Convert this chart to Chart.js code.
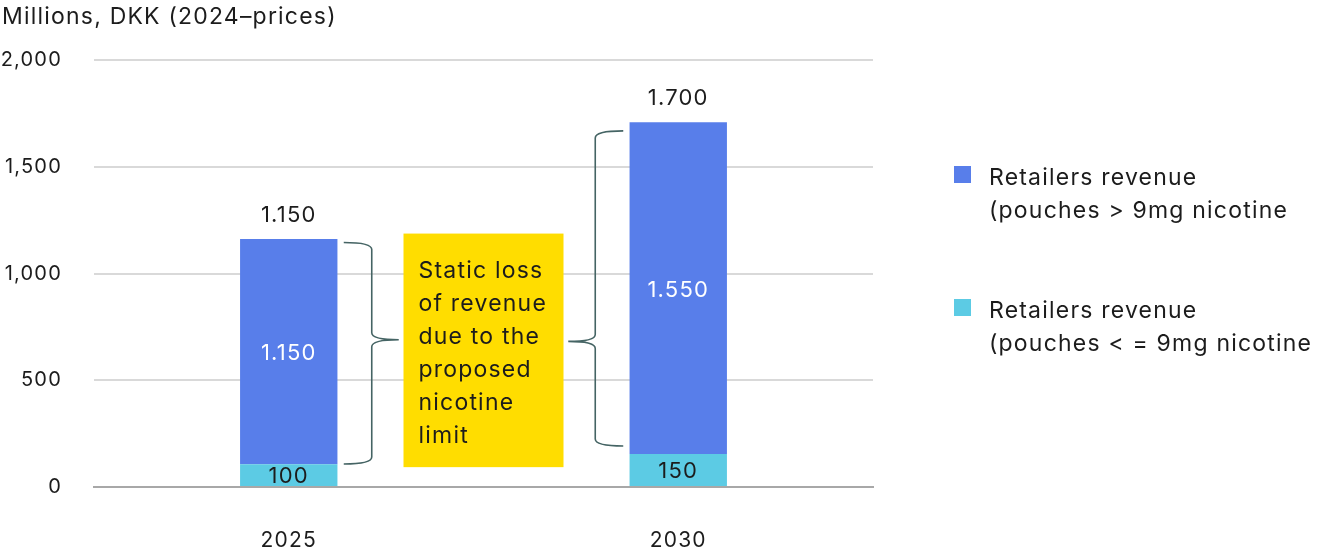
<!DOCTYPE html>
<html>
<head>
<meta charset="utf-8">
<script src="https://cdn.jsdelivr.net/npm/chart.js@4.4.1/dist/chart.umd.min.js"></script>
<style>
  html, body { margin: 0; padding: 0; background: #fff; }
  #wrap { width: 1318px; height: 552px; }
</style>
</head>
<body>
<div id="wrap"><canvas id="grafico" width="1318" height="552"></canvas></div>
<script>
const categories = ['2025', '2030'];
const over9mg = [1055, 1555];
const upTo9mg = [107, 154];
const totalLabels = ['1.150', '1.700'];
const over9mgLabels = ['1.150', '1.550'];
const upTo9mgLabels = ['100', '150'];
const yTicks = [0, 500, 1000, 1500, 2000];
const seriesNames = [
  ['Retailers revenue', '(pouches > 9mg nicotine'],
  ['Retailers revenue', '(pouches < = 9mg nicotine']
];
const boxLines = ['Static loss', 'of revenue', 'due to the', 'proposed', 'nicotine', 'limit'];

const FONT = 'Inter, "Noto Sans", sans-serif';
const TEXT = '#1c1c1c';
const BLUE = '#587EEA';
const CYAN = '#5CCBE4';

// llaves y caja amarilla (en valores del eje y)
const braces = [
  { cat: 0, side: 1, top: 1145, bottom: 108, tip: 690 },
  { cat: 1, side: -1, top: 1668, bottom: 192, tip: 682 }
];
const box = { top: 1187, bottom: 93, halfWidth: 80 };

function drawBrace(ctx, cx, side, yTop, yBot, yTip) {
  const edge = cx + side * 55;
  const spine = cx + side * 83;
  const tip = cx + side * 110;
  const r = 7;
  ctx.beginPath();
  ctx.moveTo(edge, yTop);
  ctx.quadraticCurveTo(spine, yTop, spine, yTop + r);
  ctx.lineTo(spine, yTip - r);
  ctx.quadraticCurveTo(spine, yTip, tip, yTip);
  ctx.quadraticCurveTo(spine, yTip, spine, yTip + r);
  ctx.lineTo(spine, yBot - r);
  ctx.quadraticCurveTo(spine, yBot, edge, yBot);
  ctx.stroke();
}

const extras = {
  id: 'extras',
  beforeDraw(chart) {
    // la fuente original es algo mas ancha
    chart.ctx.letterSpacing = '1.2px';
  },
  afterDatasetsDraw(chart) {
    const ctx = chart.ctx;
    const x = chart.scales.x;
    const y = chart.scales.y;
    ctx.save();

    // titulo del eje
    ctx.fillStyle = TEXT;
    ctx.font = '23px ' + FONT;
    ctx.textAlign = 'left';
    ctx.textBaseline = 'alphabetic';
    ctx.fillText('Millions, DKK (2024\u2013prices)', 2, 24);

    // etiquetas de datos
    ctx.textAlign = 'center';
    ctx.textBaseline = 'middle';
    ctx.font = '22px ' + FONT;
    const metaLow = chart.getDatasetMeta(0);
    const metaHigh = chart.getDatasetMeta(1);
    categories.forEach((c, i) => {
      const low = metaLow.data[i];
      const high = metaHigh.data[i];
      ctx.fillStyle = TEXT;
      ctx.fillText(upTo9mgLabels[i], low.x, (low.y + low.base) / 2 + 1);
      ctx.fillStyle = '#ffffff';
      ctx.fillText(over9mgLabels[i], high.x, (high.y + high.base) / 2 + 2);
      ctx.fillStyle = TEXT;
      ctx.fillText(totalLabels[i], high.x, high.y - 24);
    });

    // caja amarilla
    const mid = (x.getPixelForValue(0) + x.getPixelForValue(1)) / 2;
    const bTop = y.getPixelForValue(box.top);
    const bBot = y.getPixelForValue(box.bottom);
    ctx.fillStyle = '#FFDD00';
    ctx.fillRect(mid - box.halfWidth, bTop, box.halfWidth * 2, bBot - bTop);
    ctx.fillStyle = TEXT;
    ctx.font = '23px ' + FONT;
    ctx.textAlign = 'left';
    ctx.textBaseline = 'alphabetic';
    boxLines.forEach((t, i) => ctx.fillText(t, mid - box.halfWidth + 15, bTop + 44 + i * 33));

    // llaves
    ctx.strokeStyle = '#456464';
    ctx.lineWidth = 1.6;
    braces.forEach(b => {
      drawBrace(ctx, x.getPixelForValue(b.cat), b.side,
        y.getPixelForValue(b.top), y.getPixelForValue(b.bottom), y.getPixelForValue(b.tip));
    });

    // leyenda
    const colors = [BLUE, CYAN];
    const legendTop = [166, 299];
    ctx.font = '23px ' + FONT;
    colors.forEach((col, i) => {
      ctx.fillStyle = col;
      ctx.fillRect(954, legendTop[i], 17, 17);
      ctx.fillStyle = TEXT;
      seriesNames[i].forEach((t, j) => ctx.fillText(t, 989, legendTop[i] + 19 + j * 33));
    });

    ctx.restore();
  }
};

new Chart(document.getElementById('grafico').getContext('2d'), {
  type: 'bar',
  data: {
    labels: categories,
    datasets: [
      { label: seriesNames[1].join(' '), data: upTo9mg, backgroundColor: CYAN, stack: 's' },
      { label: seriesNames[0].join(' '), data: over9mg, backgroundColor: BLUE, stack: 's' }
    ]
  },
  options: {
    responsive: false,
    animation: false,
    layout: { padding: { top: 60, right: 445, bottom: 0, left: 0 } },
    datasets: { bar: { barPercentage: 0.25, categoryPercentage: 1 } },
    plugins: {
      legend: { display: false },
      tooltip: { enabled: false }
    },
    scales: {
      x: {
        stacked: true,
        afterFit(scale) { scale.height = 65; },
        grid: { display: false },
        border: { display: true, color: '#A8A8A8', width: 2 },
        ticks: { color: TEXT, font: { family: FONT, size: 21 }, padding: 33 }
      },
      y: {
        stacked: true,
        min: 0,
        max: 2000,
        afterFit(scale) { scale.width = 94; },
        afterBuildTicks(scale) { scale.ticks = yTicks.map(v => ({ value: v })); },
        grid: { color: '#D9D9D9', lineWidth: 2, tickLength: 0 },
        border: { display: false },
        ticks: {
          color: TEXT,
          padding: 32,
          font: { family: FONT, size: 20 },
          callback: v => v.toLocaleString('en-US')
        }
      }
    }
  },
  plugins: [extras]
});
</script>
</body>
</html>
